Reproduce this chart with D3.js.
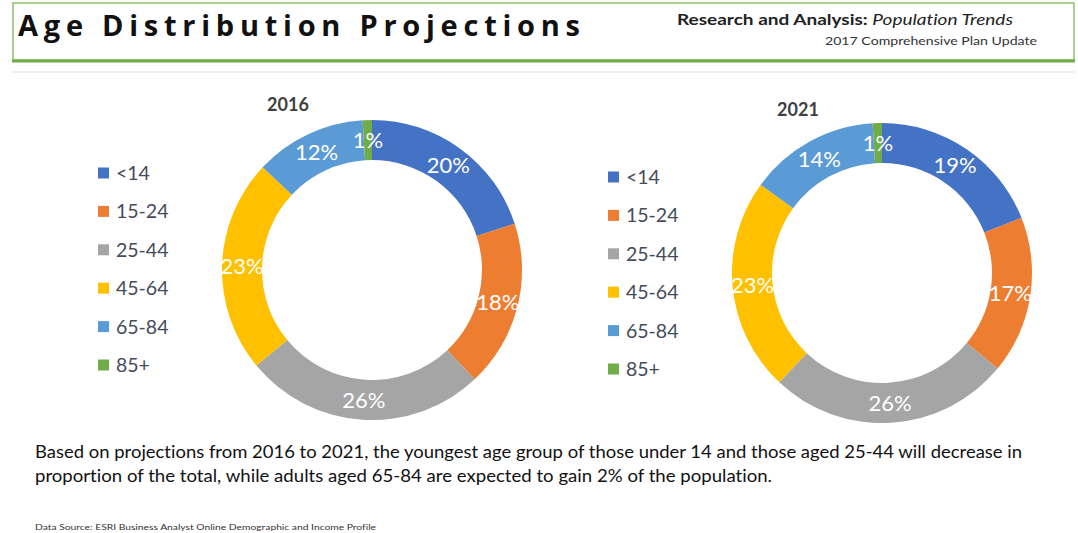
<!DOCTYPE html>
<html>
<head>
<meta charset="utf-8">
<script src="https://cdn.jsdelivr.net/npm/d3@7"></script>
<style>
  html, body { margin: 0; padding: 0; background: #fff; }
  svg { display: block; }
  text { font-variant-ligatures: none; }
</style>
</head>
<body>
<svg id="chart" width="1078" height="533"></svg>
<script>
// ---- data ----
const categories = ["<14", "15-24", "25-44", "45-64", "65-84", "85+"];
const values2016 = [20, 18, 26, 23, 12, 1];
const values2021 = [19, 17, 26, 23, 14, 1];
const years = ["2016", "2021"];
const colors = ["#4472C4", "#ED7D31", "#A5A5A5", "#FFC000", "#5B9BD5", "#70AD47"];

const svg = d3.select("#chart");
const FONT = "Lato, 'Open Sans', 'Noto Sans', sans-serif";

// ---- header box ----
svg.append("rect").attr("x", 13).attr("y", 3).attr("width", 1061).attr("height", 57)
  .attr("fill", "#fff").attr("stroke", "#8CC068").attr("stroke-width", 1.5);
svg.append("line").attr("x1", 12).attr("x2", 1075).attr("y1", 61).attr("y2", 61)
  .attr("stroke", "#6DAE4A").attr("stroke-width", 3);
svg.append("line").attr("x1", 12).attr("x2", 1075).attr("y1", 72).attr("y2", 72)
  .attr("stroke", "#eef3ea").attr("stroke-width", 2);

svg.append("text").attr("x", 18).attr("y", 36)
  .attr("font-family", "'Open Sans', 'DejaVu Sans', sans-serif").attr("font-weight", "bold").attr("font-size", 29)
  .attr("fill", "#111").attr("textLength", 562).attr("lengthAdjust", "spacing")
  .text("Age Distribution Projections");

const sub = svg.append("text").attr("x", 677).attr("y", 25)
  .attr("font-family", FONT).attr("font-size", 15).attr("fill", "#222")
  .attr("textLength", 336).attr("lengthAdjust", "spacingAndGlyphs");
sub.append("tspan").attr("font-weight", "bold").text("Research and Analysis: ");
sub.append("tspan").attr("font-style", "italic").text("Population Trends");

svg.append("text").attr("x", 825).attr("y", 45)
  .attr("font-family", FONT).attr("font-size", 12).attr("fill", "#333")
  .attr("textLength", 212).attr("lengthAdjust", "spacingAndGlyphs")
  .text("2017 Comprehensive Plan Update");

// ---- donuts ----
const pie = d3.pie().sort(null).value(d => d);
const arc = d3.arc().innerRadius(110).outerRadius(150);
const labelArc = d3.arc().innerRadius(130).outerRadius(130);
const color = d3.scaleOrdinal().domain(categories).range(colors);

const panels = [
  { year: years[0], values: values2016, cx: 372, cy: 270, titleX: 288, titleY: 111, legX: 98, legY: 173 },
  { year: years[1], values: values2021, cx: 882, cy: 273, titleX: 798, titleY: 116, legX: 608, legY: 177 }
];

const legendScale = d3.scalePoint().domain(categories).range([0, 192]);

panels.forEach(p => {
  const g = svg.append("g").attr("transform", `translate(${p.cx},${p.cy})`);
  const arcs = pie(p.values);
  g.selectAll("path").data(arcs).join("path")
    .attr("d", arc)
    .attr("fill", (d, i) => color(categories[i]));
  g.selectAll("text").data(arcs).join("text")
    .attr("transform", d => `translate(${labelArc.centroid(d)})`)
    .attr("text-anchor", "middle").attr("dy", "0.36em")
    .attr("font-family", FONT).attr("font-size", 22).attr("fill", "#fff")
    .text(d => d.data + "%");

  svg.append("text").attr("x", p.titleX).attr("y", p.titleY)
    .attr("text-anchor", "middle")
    .attr("font-family", FONT).attr("font-weight", "bold").attr("font-size", 18)
    .attr("fill", "#404040").text(p.year);

  const lg = svg.append("g").attr("transform", `translate(${p.legX},${p.legY})`);
  const items = lg.selectAll("g").data(categories).join("g")
    .attr("transform", d => `translate(0,${legendScale(d)})`);
  items.append("rect").attr("x", 0).attr("y", -5.5).attr("width", 11).attr("height", 11)
    .attr("fill", d => color(d));
  items.append("text").attr("x", 18).attr("y", 0).attr("dy", "0.36em")
    .attr("font-family", FONT).attr("font-size", 19.5).attr("fill", "#444b5a")
    .text(d => d);
});

// ---- paragraph ----
svg.append("text").attr("x", 35).attr("y", 458)
  .attr("font-family", FONT).attr("font-size", 16.5).attr("fill", "#111")
  .attr("textLength", 987).attr("lengthAdjust", "spacingAndGlyphs")
  .text("Based on projections from 2016 to 2021, the youngest age group of those under 14  and those aged 25-44 will decrease in");
svg.append("text").attr("x", 35).attr("y", 482)
  .attr("font-family", FONT).attr("font-size", 16.5).attr("fill", "#111")
  .attr("textLength", 737).attr("lengthAdjust", "spacingAndGlyphs")
  .text("proportion of the total, while adults aged 65-84 are expected to gain 2% of the population.");
svg.append("text").attr("x", 35).attr("y", 530)
  .attr("font-family", FONT).attr("font-size", 8).attr("fill", "#333")
  .attr("textLength", 341).attr("lengthAdjust", "spacingAndGlyphs")
  .text("Data Source: ESRI Business Analyst Online Demographic and Income Profile");
</script>
</body>
</html>
